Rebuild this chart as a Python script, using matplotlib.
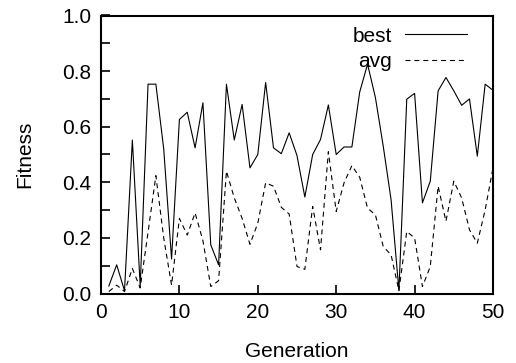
import matplotlib
matplotlib.use("Agg")
import matplotlib.pyplot as plt
from matplotlib.ticker import MultipleLocator

generations = list(range(1, 51))
best = [0.027, 0.103, 0.010, 0.552, 0.027, 0.753, 0.753, 0.520, 0.124, 0.626,
        0.652, 0.524, 0.686, 0.175, 0.103, 0.753, 0.552, 0.680, 0.452, 0.500,
        0.759, 0.524, 0.503, 0.578, 0.496, 0.347, 0.500, 0.554, 0.678, 0.500,
        0.527, 0.527, 0.725, 0.825, 0.705, 0.530, 0.337, 0.010, 0.699, 0.720,
        0.326, 0.404, 0.729, 0.777, 0.729, 0.677, 0.700, 0.494, 0.753, 0.731]
avg = [0.007, 0.030, 0.007, 0.090, 0.020, 0.220, 0.424, 0.200, 0.030, 0.270,
       0.210, 0.290, 0.190, 0.025, 0.046, 0.440, 0.344, 0.270, 0.177, 0.253,
       0.398, 0.386, 0.310, 0.286, 0.097, 0.087, 0.313, 0.157, 0.510, 0.295,
       0.398, 0.460, 0.418, 0.307, 0.283, 0.169, 0.139, 0.010, 0.223, 0.200,
       0.025, 0.097, 0.386, 0.260, 0.404, 0.344, 0.229, 0.181, 0.301, 0.452]

plt.rcParams['font.family'] = ['Liberation Sans', 'DejaVu Sans']
fs = 15

fig = plt.figure(figsize=(5.16, 3.63), dpi=100)
ax = fig.add_axes([101/516, (363-293.5)/363, 392/516, 278/363])

ax.plot(generations, best, color='black', lw=0.8, label='best')
ax.plot(generations, avg, color='black', lw=0.8, linestyle=(0, (4.5, 3.5)), label='avg')

ax.set_xlim(0, 50)
ax.set_ylim(0, 1.0)
ax.xaxis.set_major_locator(MultipleLocator(10))
ax.yaxis.set_major_locator(MultipleLocator(0.2))
ax.yaxis.set_minor_locator(MultipleLocator(0.1))
ax.yaxis.set_major_formatter(plt.FuncFormatter(lambda v, p: f"{v:.1f}"))
ax.tick_params(which='both', direction='in', top=False, right=False,
               labelsize=fs, length=6.5, width=1.2, pad=7)
for s in ax.spines.values():
    s.set_linewidth(1.5)

ax.set_xlabel('Generation', fontsize=fs, labelpad=14)
ax.set_ylabel('Fitness', fontsize=fs, labelpad=20)

ax.legend(loc='upper right', bbox_to_anchor=(0.934, 0.96), frameon=False,
          markerfirst=False, fontsize=fs, handlelength=3.0, handletextpad=0.6,
          labelspacing=0.3, borderaxespad=0, borderpad=0)

fig.savefig('out.png', dpi=100)
